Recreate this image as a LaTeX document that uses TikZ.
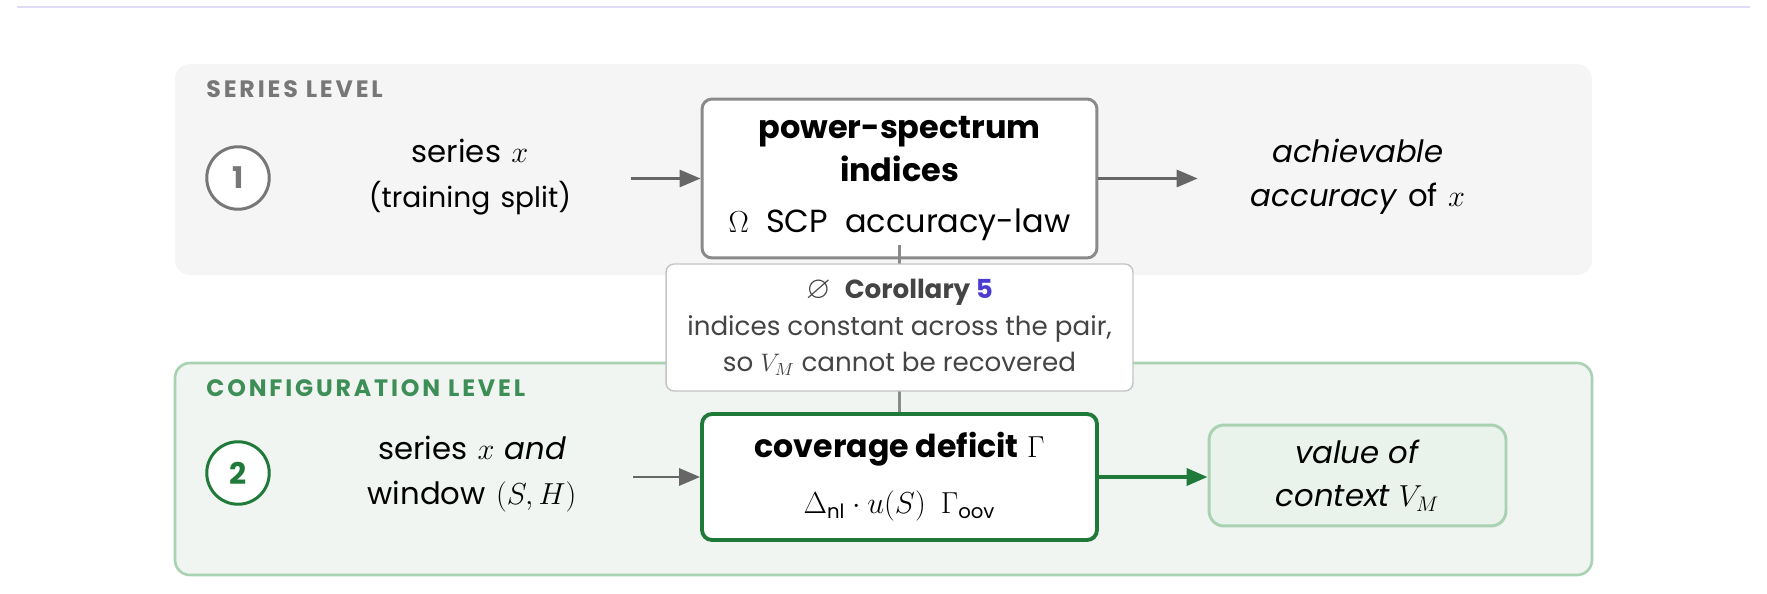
\documentclass[tikz,border=0pt]{standalone}
\usepackage{fontspec}
\usepackage{amssymb}
\setmainfont{Poppins}
\usetikzlibrary{arrows.meta,calc,positioning}
\definecolor{LevelRule}{HTML}{E0DCF6}
\definecolor{SeriesPanel}{HTML}{F5F5F5}
\definecolor{SeriesGray}{HTML}{777777}
\definecolor{ArrowGray}{HTML}{666666}
\definecolor{BoxGray}{HTML}{8A8A8A}
\definecolor{ConfigPanel}{HTML}{F0F5F1}
\definecolor{ConfigLine}{HTML}{A9D2B3}
\definecolor{ConfigGreen}{HTML}{1F7A3A}
\definecolor{ConfigLabel}{HTML}{3E8E58}
\definecolor{ValueFill}{HTML}{E9F3EC}
\definecolor{NoteText}{HTML}{444444}
\definecolor{NoteLine}{HTML}{C4C4C4}
\definecolor{NoteBlue}{HTML}{4B3BD0}

\begin{document}
\begin{tikzpicture}[x=0.02cm,y=-0.02cm,
    lvltitle/.style={anchor=west,inner sep=0pt,
      font=\bfseries\fontsize{13.5}{15}\selectfont\addfontfeature{LetterSpace=12}},
    stepnum/.style={circle,draw,fill=white,line width=1.7pt,minimum size=1.25cm,
      inner sep=0pt,font=\bfseries\fontsize{17}{18}\selectfont},
    intext/.style={text width=6.44cm,align=center,inner sep=0pt,
      font=\fontsize{17.5}{26}\selectfont},
    outtext/.style={text width=6.4cm,align=center,inner sep=0pt,
      font=\fontsize{17.5}{25}\selectfont},
    mainbox/.style={draw,fill=white,rounded corners=0.2cm,align=center,
      minimum width=7.9cm,inner sep=0pt},
    flow/.style={-{Triangle[length=0.42cm,width=0.34cm]},line width=1.7pt}]
  \useasboundingbox (0,0) rectangle (1767,594);

  % top rule
  \draw[LevelRule,line width=1.4pt] (17,7) -- (1750,7);

  % the two level panels
  \fill[SeriesPanel,rounded corners=0.3cm] (175,64) rectangle (1592,275);
  \draw[ConfigLine,fill=ConfigPanel,line width=1.5pt,rounded corners=0.3cm]
    (175,363) rectangle (1592,575);

  \node[lvltitle,text=SeriesGray] (lvlone) at (206,89) {SERIES LEVEL};
  \node[lvltitle,text=ConfigLabel] (lvltwo) at (206,388) {CONFIGURATION LEVEL};

  \node[stepnum,draw=SeriesGray,text=SeriesGray] (numone) at (238,178) {1};
  \node[stepnum,draw=ConfigGreen,text=ConfigGreen] (numtwo) at (238,473) {2};

  % series level
  \node[intext] (inone) at (470,177)
    {series $x$\\\fontsize{16}{26}\selectfont(training split)};
  \node[mainbox,draw=BoxGray,line width=1.7pt,minimum height=3.18cm,
    font=\fontsize{18.2}{25}\selectfont] (power) at (899.5,178.5)
    {\textbf{power-spectrum}\\\textbf{indices}\\[4pt]
     $\Omega$\ \ SCP\ \ accuracy-law};
  \node[outtext] (outone) at (1358,177)
    {\textit{achievable}\\\textit{accuracy} of $x$};

  % configuration level
  \node[intext] (intwo) at (472,474)
    {series $x$ \textit{and}\\window $(S,H)$};
  \node[mainbox,draw=ConfigGreen,line width=2.2pt,minimum height=2.52cm,
    font=\fontsize{18}{24}\selectfont] (cover) at (899.5,477)
    {\textbf{coverage deficit} $\Gamma$\\[8pt]
     \fontsize{16}{24}\selectfont$\Delta_{\mathrm{nl}}\cdot u(S)\ \ \Gamma_{\mathrm{oov}}$};
  \node[draw=ConfigLine,fill=ValueFill,line width=1.7pt,rounded corners=0.3cm,
    minimum width=5.94cm,minimum height=2.02cm,align=center,inner sep=0pt,
    font=\fontsize{17.5}{25}\selectfont] (value) at (1357.5,475.5)
    {\textit{value of}\\\textit{context} $V_M$};

  % link between the levels, partly hidden by the note
  \draw[BoxGray,line width=1.7pt] ([yshift=0.28cm]power.south) -- (cover.north);
  \node[draw=NoteLine,fill=white,line width=0.8pt,rounded corners=0.16cm,
    minimum width=9.34cm,minimum height=2.54cm,align=center,inner sep=0pt,
    text=NoteText,font=\fontsize{14.9}{20.7}\selectfont] (note) at (899.5,327.5)
    {{\fontsize{18}{20.7}\selectfont$\varnothing$}\ \ \textbf{Corollary \textcolor{NoteBlue}{5}}\\
     indices constant across the pair,\\so $V_M$ cannot be recovered};

  % arrows
  \draw[flow,ArrowGray] (inone.east |- power.west) -- (power.west);
  \draw[flow,ArrowGray] (power.east) -- (outone.west |- power.east);
  \draw[flow,ArrowGray] (intwo.east |- cover.west) -- (cover.west);
  \draw[flow,ConfigGreen,line width=2.2pt] (cover.east) -- (cover.east -| value.west);
\end{tikzpicture}
\end{document}
